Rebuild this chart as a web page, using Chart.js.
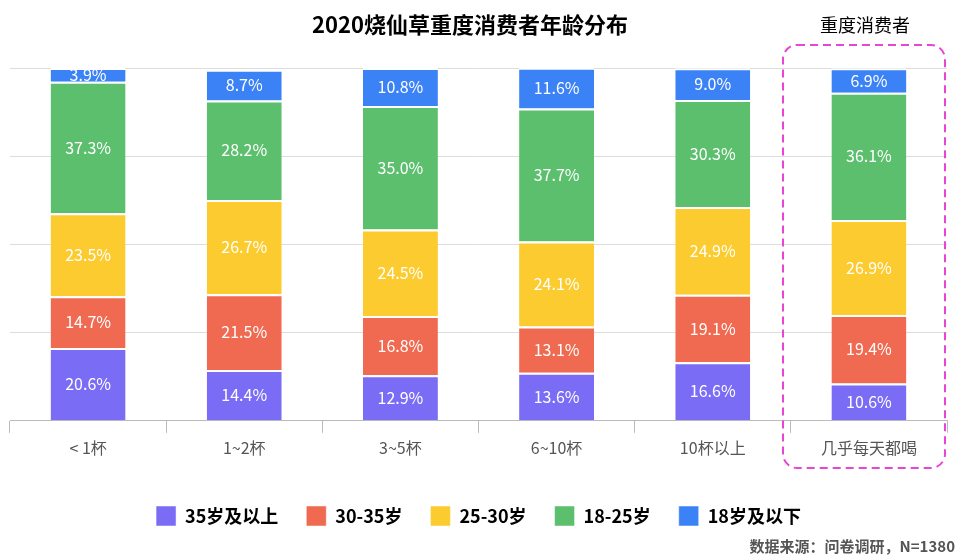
<!DOCTYPE html>
<html>
<head>
<meta charset="utf-8">
<script src="https://cdn.jsdelivr.net/npm/chart.js@4"></script>
<style>
body { margin: 0; background: #fff; }
#wrap { width: 967px; height: 560px; position: relative; }
</style>
</head>
<body>
<div id="wrap"><canvas id="c"></canvas></div>
<script>
var categories = ['< 1杯', '1~2杯', '3~5杯', '6~10杯', '10杯以上', '几乎每天都喝'];
var seriesNames = ['35岁及以上', '30-35岁', '25-30岁', '18-25岁', '18岁及以下'];
var over35 = [20.6, 14.4, 12.9, 13.6, 16.6, 10.6];
var age30to35 = [14.7, 21.5, 16.8, 13.1, 19.1, 19.4];
var age25to30 = [23.5, 26.7, 24.5, 24.1, 24.9, 26.9];
var age18to25 = [37.3, 28.2, 35.0, 37.7, 30.3, 36.1];
var under18 = [3.9, 8.7, 10.8, 11.6, 9.0, 6.9];
var colors = ['#7a6cf5', '#ef6a50', '#fccb2f', '#5cbf6e', '#3b82f6'];

var font = '"Noto Sans CJK SC", "Noto Sans", sans-serif';

var extras = {
    id: 'extras',
    afterDatasetsDraw: function(chart) {
        var c = chart.ctx;
        c.save();
        c.fillStyle = '#fff';
        c.font = '16px ' + font;
        c.textAlign = 'center';
        c.textBaseline = 'middle';
        chart.data.datasets.forEach(function(ds, i) {
            chart.getDatasetMeta(i).data.forEach(function(bar, j) {
                var mid = (bar.y + bar.base) / 2;
                c.fillText(ds.data[j].toFixed(1) + '%', bar.x, mid);
            });
        });
        c.restore();
    },
    afterDraw: function(chart) {
        var c = chart.ctx;
        c.save();
        c.fillStyle = '#000';
        c.font = 'bold 22px ' + font;
        c.textAlign = 'center';
        c.textBaseline = 'middle';
        c.fillText('2020烧仙草重度消费者年龄分布', 470, 25);
        c.font = '18px ' + font;
        c.fillText('重度消费者', 865, 25);
        c.fillStyle = '#555';
        c.font = 'bold 15px ' + font;
        c.textAlign = 'right';
        c.fillText('数据来源：问卷调研，N=1380', 955, 546);
        c.strokeStyle = '#e645d6';
        c.lineWidth = 2;
        c.setLineDash([8, 5]);
        c.beginPath();
        c.roundRect(783, 45, 162, 423, 14);
        c.stroke();
        c.restore();
    }
};

var ctx = document.getElementById('c').getContext('2d');
var series = [over35, age30to35, age25to30, age18to25, under18];
new Chart(ctx, {
    type: 'bar',
    data: {
        labels: categories,
        datasets: series.map(function(d, i) {
            return {
                label: seriesNames[i],
                data: d,
                backgroundColor: colors[i],
                borderColor: '#fff',
                borderWidth: { top: 2 },
                borderSkipped: 'bottom',
                barPercentage: 0.48,
                categoryPercentage: 1
            };
        })
    },
    options: {
        responsive: true,
        maintainAspectRatio: false,
        animation: false,
        layout: { padding: { top: 68, left: 10, right: 20, bottom: 24 } },
        plugins: {
            legend: {
                position: 'bottom',
                labels: { boxWidth: 20, boxHeight: 20, padding: 28, color: '#000', font: { size: 18, weight: 'bold', family: font } }
            },
            tooltip: { enabled: false }
        },
        scales: {
            x: {
                stacked: true,
                afterFit: function(s) { s.height += 14; },
                grid: { display: true, offset: true, drawOnChartArea: false, color: '#bbb', tickLength: 12 },
                border: { color: '#bbb' },
                ticks: { color: '#555', font: { size: 16, family: font }, padding: 6 }
            },
            y: {
                stacked: true,
                display: true,
                min: 0,
                max: 100,
                ticks: { display: false, stepSize: 25 },
                grid: { color: '#ddd', drawTicks: false },
                border: { display: false }
            }
        }
    },
    plugins: [extras]
});
</script>
</body>
</html>
